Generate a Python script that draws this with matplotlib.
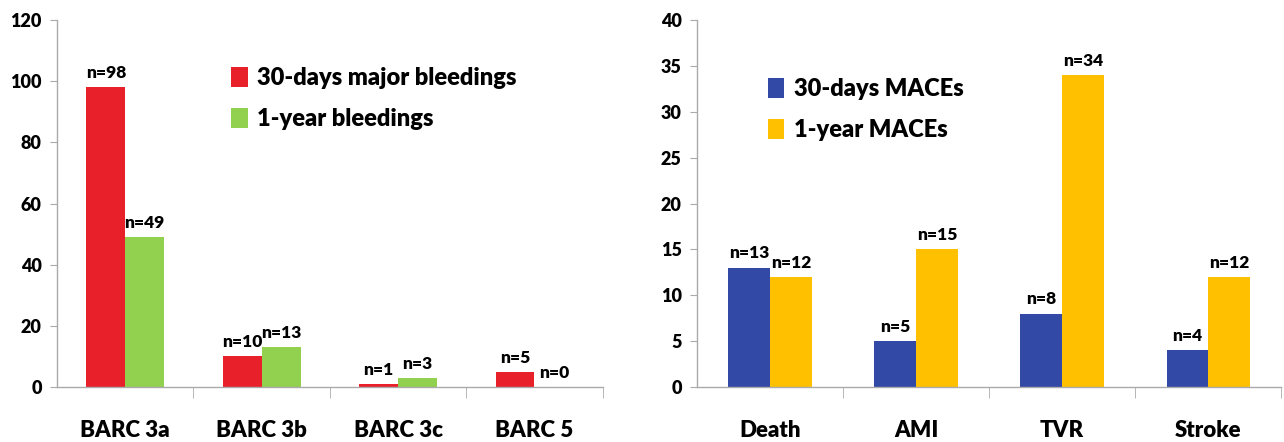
import matplotlib
matplotlib.use("Agg")
import matplotlib.pyplot as plt
import numpy as np

plt.rcParams['font.family'] = ['Lato', 'DejaVu Sans']
plt.rcParams['font.weight'] = 'heavy'

left_categories = ["BARC 3a", "BARC 3b", "BARC 3c", "BARC 5"]
bleed_30d = [98, 10, 1, 5]
bleed_1y = [49, 13, 3, 0]
left_series_names = ["30-days major bleedings", "1-year bleedings"]
left_yticks = [0, 20, 40, 60, 80, 100, 120]

right_categories = ["Death", "AMI", "TVR", "Stroke"]
mace_30d = [13, 5, 8, 4]
mace_1y = [12, 15, 34, 12]
right_series_names = ["30-days MACEs", "1-year MACEs"]
right_yticks = [0, 5, 10, 15, 20, 25, 30, 35, 40]

W = 'heavy'

fig = plt.figure(figsize=(12.84, 4.42), dpi=100)
ax1 = fig.add_axes([0.0444, 0.1244, 0.425, 0.830])
ax2 = fig.add_axes([0.5428, 0.1244, 0.455, 0.830])

def draw(ax, cats, s1, s2, names, colors, yticks, ymax, leg_pos, off):
    x = np.arange(len(cats))
    w = 0.285
    b1 = ax.bar(x - w/2, s1, w, color=colors[0], label=names[0])
    b2 = ax.bar(x + w/2, s2, w, color=colors[1], label=names[1])
    for bars, vals in ((b1, s1), (b2, s2)):
        for r, v in zip(bars, vals):
            ax.text(r.get_x() + r.get_width()/2, v + off, f"n={v}",
                    ha='center', va='bottom', fontsize=12.5, fontweight=W)
    ax.set_xlim(-0.5, len(cats) - 0.5)
    ax.set_ylim(0, ymax)
    ax.set_yticks(yticks)
    ax.set_yticklabels([str(t) for t in yticks], fontsize=13, fontweight=W)
    ax.set_xticks(x)
    ax.set_xticklabels(cats, fontsize=16, fontweight=W)
    ax.tick_params(axis='x', length=0, pad=24)
    ax.set_xticks(np.arange(len(cats)) + 0.5, minor=True)
    ax.tick_params(axis='x', which='minor', length=8, color='#aaaaaa', direction='out')
    ax.tick_params(axis='y', length=5, color='#aaaaaa', pad=6)
    for s in ('top', 'right'):
        ax.spines[s].set_visible(False)
    for s in ('left', 'bottom'):
        ax.spines[s].set_color('#aaaaaa')
        ax.spines[s].set_linewidth(1.0)
    ax.legend(loc='upper left', bbox_to_anchor=leg_pos, frameon=False,
              prop={'size': 17, 'weight': W}, handlelength=0.7,
              handleheight=0.9, handletextpad=0.4, labelspacing=0.8)

draw(ax1, left_categories, bleed_30d, bleed_1y, left_series_names,
     ['#E8202A', '#92D050'], left_yticks, 120, (0.28, 0.93), 2)
draw(ax2, right_categories, mace_30d, mace_1y, right_series_names,
     ['#3349A6', '#FFC000'], right_yticks, 40, (0.085, 0.90), 0.7)

fig.savefig("out.png", dpi=100)
